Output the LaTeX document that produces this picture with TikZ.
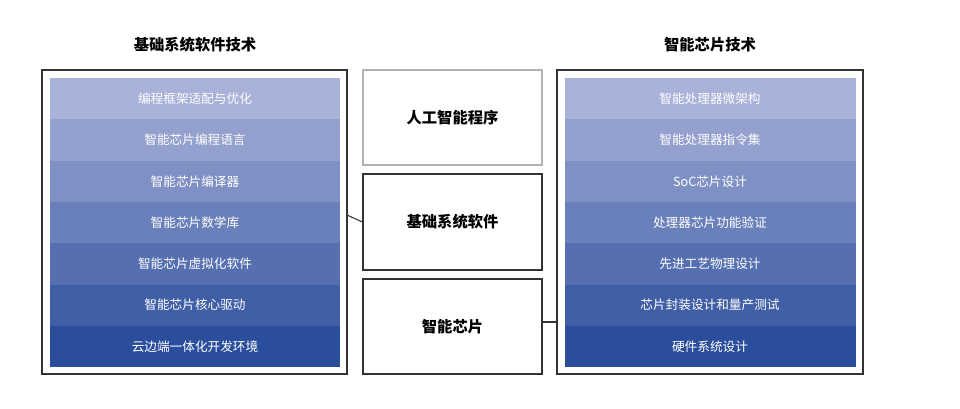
\documentclass[tikz,border=0pt]{standalone}
\usepackage{fontspec}
\setmainfont{Noto Sans CJK SC}
\usetikzlibrary{positioning}
\definecolor{bandlight}{HTML}{A9B2D8}
\definecolor{banddark}{HTML}{2B4E9C}
\begin{document}
\begin{tikzpicture}[x=0.0264cm,y=-0.0264cm,thick]
\tikzset{
  frame/.style = {draw=black!80, line width=1pt},
  band/.style = {text=white, font=\fontsize{9.5pt}{11pt}\selectfont},
  layer/.style = {frame, fill=white, font=\bfseries\fontsize{11.5pt}{13pt}\selectfont},
  title/.style = {font=\bfseries\fontsize{11.5pt}{13pt}\selectfont}
}
\useasboundingbox (0,0) rectangle (960,408);
% titles
\node[title] (tl) at (195,45) {基础系统软件技术};
\node[title] (tr) at (710,45) {智能芯片技术};
% outer frames
\draw[frame] (42,70) rectangle (347,374);
\draw[frame] (557,70) rectangle (863,374);
\coordinate (lout) at (347,215);
\coordinate (rout) at (557,322);
% bands
\foreach \t [count=\i] in {编程框架适配与优化,智能芯片编程语言,智能芯片编译器,智能芯片数学库,智能芯片虚拟化软件,智能芯片核心驱动,云边端一体化开发环境}{
  \pgfmathsetmacro\p{(\i-1)*100/6}
  \fill[banddark!\p!bandlight] (50,{78+(\i-1)*41.3}) rectangle (340,{78+\i*41.3});
  \node[band] (l\i) at (195,{78+(\i-0.5)*41.3}) {\t};
}
\foreach \t [count=\i] in {智能处理器微架构,智能处理器指令集,SoC芯片设计,处理器芯片功能验证,先进工艺物理设计,芯片封装设计和量产测试,硬件系统设计}{
  \pgfmathsetmacro\p{(\i-1)*100/6}
  \fill[banddark!\p!bandlight] (565,{78+(\i-1)*41.3}) rectangle (856,{78+\i*41.3});
  \node[band] (r\i) at (710,{78+(\i-0.5)*41.3}) {\t};
}
% middle stack
\node[layer, draw=black!30, minimum width=179*0.0264cm, minimum height=95*0.0264cm] (ai) at (452.5,117.5) {人工智能程序};
\node[layer, minimum width=179*0.0264cm, minimum height=96*0.0264cm] (sys) at (452.5,222) {基础系统软件};
\node[layer, minimum width=179*0.0264cm, minimum height=95*0.0264cm] (chip) at (452.5,326.5) {智能芯片};
\draw[black!80, line width=0.8pt] (lout) -- (sys.west);
\draw[black!80, line width=0.8pt] (chip.east |- rout) -- (rout);
\end{tikzpicture}
\end{document}
